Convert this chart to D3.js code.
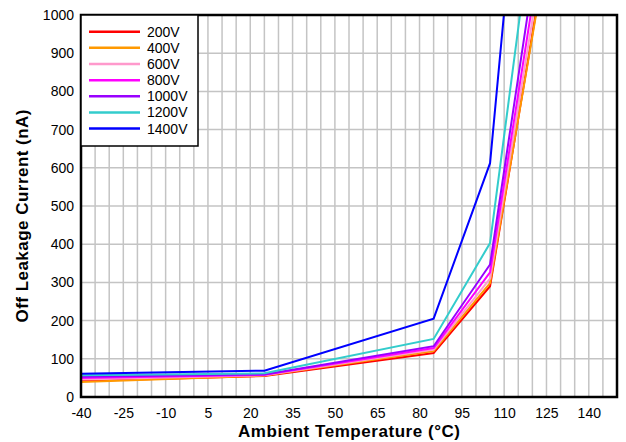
<!DOCTYPE html>
<html>
<head>
<meta charset="utf-8">
<script src="https://cdn.jsdelivr.net/npm/d3@7"></script>
<style>
  body { margin: 0; background: #fff; }
  text { font-family: "Liberation Sans", Arial, sans-serif; }
</style>
</head>
<body>
<script>
// Chart size
var svgWidth = 626;
var svgHeight = 442;

var margin = { top: 15, right: 9, bottom: 45, left: 81 };
var chartWidth = svgWidth - margin.left - margin.right;
var chartHeight = svgHeight - margin.top - margin.bottom;

// Data
var temps = [-40, 25, 85, 105, 125];
var seriesNames = ["200V", "400V", "600V", "800V", "1000V", "1200V", "1400V"];
var seriesColors = ["#ff0000", "#ff9900", "#ff99cc", "#ff00ff", "#9900ff", "#33cccc", "#0000ff"];
var v200 = [42, 55, 115, 290, 1170];
var v400 = [39, 56, 120, 298, 1160];
var v600 = [46, 57, 124, 310, 1212];
var v800 = [50, 58, 128, 326, 1262];
var v1000 = [53, 59, 133, 347, 1329];
var v1200 = [57, 62, 152, 403, 1529];
var v1400 = [61, 69, 205, 612, 2196];
var seriesValues = [v200, v400, v600, v800, v1000, v1200, v1400];

var xTicks = [-40, -25, -10, 5, 20, 35, 50, 65, 80, 95, 110, 125, 140];
var yTicks = [0, 100, 200, 300, 400, 500, 600, 700, 800, 900, 1000];

var svg = d3.select("body")
  .append("svg")
  .attr("width", svgWidth)
  .attr("height", svgHeight);

var chartGroup = svg.append("g")
  .attr("transform", `translate(${margin.left}, ${margin.top})`);

var x = d3.scaleLinear().domain([-40, 150]).range([0, chartWidth]);
var y = d3.scaleLinear().domain([0, 1000]).range([chartHeight, 0]);

// grid lines, every 5 degrees and every 100 nA
chartGroup.append("g")
  .selectAll("line")
  .data(d3.range(-35, 150, 5))
  .enter()
  .append("line")
  .attr("x1", d => x(d))
  .attr("x2", d => x(d))
  .attr("y1", 0)
  .attr("y2", chartHeight)
  .attr("stroke", "#c4c4c4")
  .attr("stroke-width", 1.5);

chartGroup.append("g")
  .selectAll("line")
  .data(yTicks.slice(1, -1))
  .enter()
  .append("line")
  .attr("x1", 0)
  .attr("x2", chartWidth)
  .attr("y1", d => y(d))
  .attr("y2", d => y(d))
  .attr("stroke", "#c4c4c4")
  .attr("stroke-width", 1.5);

// clip the lines to the plot area
svg.append("defs").append("clipPath")
  .attr("id", "plotClip")
  .append("rect")
  .attr("width", chartWidth)
  .attr("height", chartHeight);

var line = d3.line()
  .x((d, i) => x(temps[i]))
  .y(d => y(d));

chartGroup.append("g")
  .attr("clip-path", "url(#plotClip)")
  .selectAll("path")
  .data(seriesValues)
  .enter()
  .append("path")
  .attr("d", d => line(d))
  .attr("fill", "none")
  .attr("stroke", (d, i) => seriesColors[i])
  .attr("stroke-width", 2);

// axes (plain hyphen for negatives, no thousands comma)
var leftAxis = d3.axisLeft(y).tickValues(yTicks).tickSize(0).tickPadding(7)
  .tickFormat(d => String(d));
var bottomAxis = d3.axisBottom(x).tickValues(xTicks).tickSize(0).tickPadding(11)
  .tickFormat(d => String(d));

var gy = chartGroup.append("g").call(leftAxis);
var gx = chartGroup.append("g")
  .attr("transform", "translate(0, " + chartHeight + ")")
  .call(bottomAxis);
[gx, gy].forEach(function (g) {
  g.select(".domain").remove();
  g.selectAll("text")
    .attr("font-family", "Liberation Sans, Arial, sans-serif")
    .attr("font-size", "14px")
    .attr("fill", "#000");
});

// frame
chartGroup.append("rect")
  .attr("width", chartWidth)
  .attr("height", chartHeight)
  .attr("fill", "none")
  .attr("stroke", "#000")
  .attr("stroke-width", 2.5);

// legend
var legend = chartGroup.append("g");
legend.append("rect")
  .attr("x", 0)
  .attr("y", 0)
  .attr("width", 117)
  .attr("height", 131)
  .attr("fill", "#fff")
  .attr("stroke", "#000")
  .attr("stroke-width", 1.5);

var rows = legend.selectAll("g.row")
  .data(seriesNames)
  .enter()
  .append("g")
  .attr("class", "row")
  .attr("transform", (d, i) => `translate(0, ${16.7 + i * 16.15})`);

rows.append("line")
  .attr("x1", 8)
  .attr("x2", 59)
  .attr("stroke", (d, i) => seriesColors[i])
  .attr("stroke-width", 2.5);

rows.append("text")
  .attr("x", 66)
  .attr("dy", "0.36em")
  .attr("font-size", "14px")
  .text(d => d);

// axis titles
svg.append("text")
  .attr("x", 349)
  .attr("y", 437)
  .attr("text-anchor", "middle")
  .attr("font-size", "17px")
  .attr("font-weight", 700)
  .attr("textLength", 222)
  .attr("lengthAdjust", "spacing")
  .text("Ambient Temperature (°C)");

svg.append("text")
  .attr("transform", "translate(28, 216) rotate(-90)")
  .attr("text-anchor", "middle")
  .attr("font-size", "17px")
  .attr("font-weight", 700)
  .attr("textLength", 213)
  .attr("lengthAdjust", "spacing")
  .text("Off Leakage Current (nA)");
</script>
</body>
</html>
